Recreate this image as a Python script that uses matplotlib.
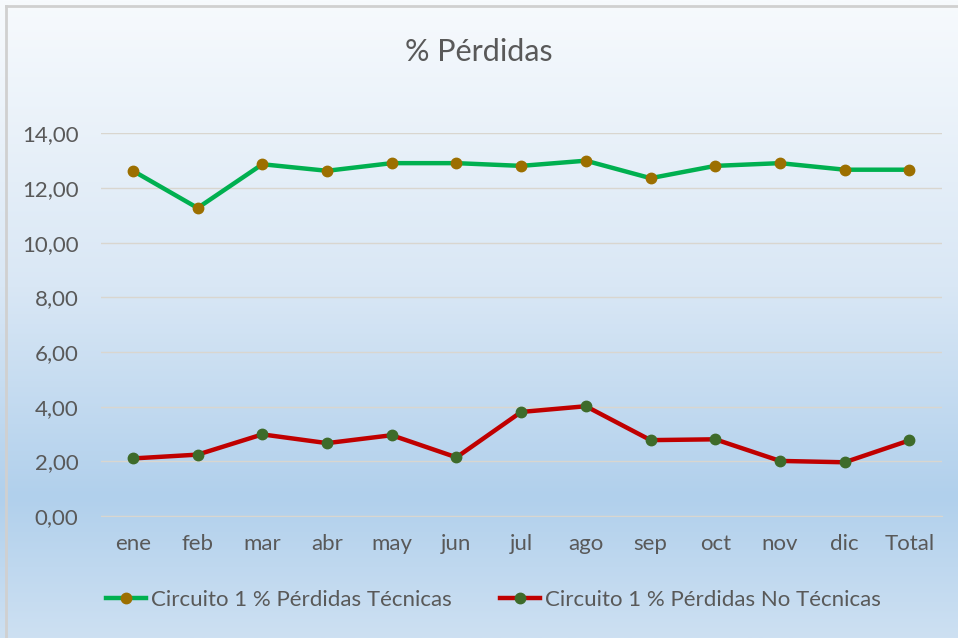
import numpy as np
import matplotlib
matplotlib.use("Agg")
import matplotlib.pyplot as plt
from matplotlib.colors import LinearSegmentedColormap
from matplotlib.ticker import FuncFormatter

plt.rcParams["font.family"] = ["Lato", "DejaVu Sans"]

months = ["ene", "feb", "mar", "abr", "may", "jun", "jul", "ago", "sep", "oct", "nov", "dic", "Total"]
tecnicas = [12.63, 11.27, 12.87, 12.63, 12.91, 12.91, 12.81, 13.00, 12.36, 12.81, 12.91, 12.67, 12.67]
no_tecnicas = [2.11, 2.25, 2.99, 2.67, 2.96, 2.15, 3.81, 4.02, 2.78, 2.81, 2.02, 1.97, 2.77]

TXT = "#595959"

fig = plt.figure(figsize=(9.58, 6.38), dpi=100)

# gradient background for the whole chart area
bg = fig.add_axes([0, 0, 1, 1], zorder=-10)
cmap = LinearSegmentedColormap.from_list(
    "bg", [(0.0, "#f7fafd"), (0.45, "#d9e7f5"), (0.78, "#b1d0ec"), (1.0, "#cde0f2")])
grad = np.linspace(0, 1, 256).reshape(-1, 1)
bg.imshow(grad, aspect="auto", cmap=cmap, extent=[0, 1, 0, 1], origin="upper")
bg.plot([0.006, 0.006], [0, 0.991], color="#d0d0d0", lw=2)
bg.plot([0.006, 1], [0.991, 0.991], color="#d0d0d0", lw=2)
bg.set_xlim(0, 1)
bg.set_ylim(0, 1)
bg.axis("off")

ax = fig.add_axes([0.105, 0.191, 0.878, 0.600])
ax.patch.set_alpha(0)
x = np.arange(len(months))
ax.plot(x, tecnicas, color="#00b050", lw=3.2, marker="o", ms=7.5,
        mfc="#9c6f00", mec="#9c6f00", label="Circuito 1 % Pérdidas Técnicas", zorder=3)
ax.plot(x, no_tecnicas, color="#c00000", lw=3.2, marker="o", ms=7.5,
        mfc="#3e6b2a", mec="#3e6b2a", label="Circuito 1 % Pérdidas No Técnicas", zorder=3)

ax.set_xlim(-0.5, len(months) - 0.5)
ax.set_ylim(0, 14)
ax.set_yticks(np.arange(0, 15, 2))
ax.yaxis.set_major_formatter(FuncFormatter(lambda v, p: f"{v:.2f}".replace(".", ",")))
ax.set_xticks(x)
ax.set_xticklabels(months)
ax.grid(axis="y", color="#d9d6cf", lw=1)
ax.set_axisbelow(True)
for s in ["top", "right", "left"]:
    ax.spines[s].set_visible(False)
ax.spines["bottom"].set_color("#d9d6cf")
ax.tick_params(axis="both", length=0, labelsize=16, colors=TXT)
ax.tick_params(axis="x", pad=13)
ax.tick_params(axis="y", pad=16)

fig.text(0.5, 0.918, "% Pérdidas", ha="center", va="center", fontsize=22, color=TXT)

fig.legend(loc="center", bbox_to_anchor=(0.515, 0.06), ncol=2, frameon=False,
           fontsize=16, labelcolor=TXT, handlelength=1.8, handletextpad=0.2,
           columnspacing=2.2)

fig.savefig("out.png", dpi=100)
